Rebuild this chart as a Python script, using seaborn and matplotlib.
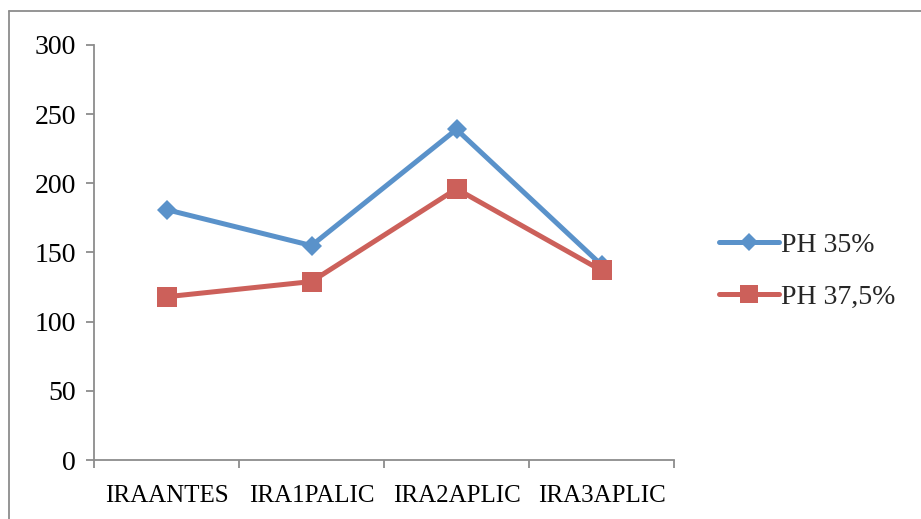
import matplotlib
matplotlib.use("Agg")
import matplotlib.pyplot as plt
import seaborn as sns
import pandas as pd
from matplotlib.lines import Line2D

categories = ["IRAANTES", "IRA1PALIC", "IRA2APLIC", "IRA3APLIC"]
ph35 = [181, 155, 239, 141]
ph375 = [118, 129, 196, 137]
series_names = ["PH 35%", "PH 37,5%"]
yticks = [0, 50, 100, 150, 200, 250, 300]

df = pd.DataFrame({
    "cat": categories * 2,
    "val": ph35 + ph375,
    "serie": [series_names[0]] * 4 + [series_names[1]] * 4,
})

sns.set_theme(style="white")
plt.rcParams["font.family"] = ["Liberation Serif", "DejaVu Serif"]

fig = plt.figure(figsize=(9.21, 5.19), dpi=100)
ax = fig.add_axes([94 / 921, 1 - 460 / 519, 580 / 921, 415 / 519])

colors = {"PH 35%": "#5A92CA", "PH 37,5%": "#CC605A"}
markers = {"PH 35%": "D", "PH 37,5%": "s"}
sizes = {"PH 35%": 10, "PH 37,5%": 14}

for name in series_names:
    sub = df[df["serie"] == name]
    sns.lineplot(data=sub, x="cat", y="val", ax=ax, color=colors[name],
                 marker=markers[name], markersize=sizes[name],
                 markeredgewidth=0, linewidth=3.6, sort=False,
                 label=name, legend=False)

ax.set_xlim(-0.5, 3.5)
ax.set_ylim(0, 300)
ax.set_yticks(yticks)
ax.set_yticklabels([str(t) for t in yticks], fontsize=20)
ax.set_xticks(range(len(categories)))
ax.set_xticklabels(categories, fontsize=18)
ax.set_xticks([-0.5, 0.5, 1.5, 2.5, 3.5], minor=True)
ax.set_xlabel("")
ax.set_ylabel("")

axis_col = "#8C8C8C"
for s in ["top", "right"]:
    ax.spines[s].set_visible(False)
for s in ["left", "bottom"]:
    ax.spines[s].set_color(axis_col)
    ax.spines[s].set_linewidth(1.3)

ax.tick_params(axis="y", which="major", direction="out", length=6, width=1.3,
               color=axis_col, left=True, pad=7, labelcolor="black")
ax.tick_params(axis="x", which="major", length=0, pad=18, labelcolor="black")
ax.tick_params(axis="x", which="minor", direction="out", length=6, width=1.3,
               color=axis_col, bottom=True)
ax.grid(False)

handles = [Line2D([], [], color=colors[n], marker=markers[n],
                  markersize=sizes[n] * 0.9, markeredgewidth=0, linewidth=3.6)
           for n in series_names]
fig.legend(handles, series_names, loc="center left",
           bbox_to_anchor=(719 / 921, 1 - 271 / 519), frameon=False,
           fontsize=20, handlelength=2.15, handletextpad=0.08,
           labelspacing=0.95, borderaxespad=0, borderpad=0)

# outer frame
fig.add_artist(Line2D([8.5 / 921, 8.5 / 921], [0, 1 - 11 / 519],
                      transform=fig.transFigure, color="#8C8C8C", lw=1.3))
fig.add_artist(Line2D([8.5 / 921, 1], [1 - 11 / 519, 1 - 11 / 519],
                      transform=fig.transFigure, color="#8C8C8C", lw=1.3))

fig.savefig("out.png", dpi=100)
